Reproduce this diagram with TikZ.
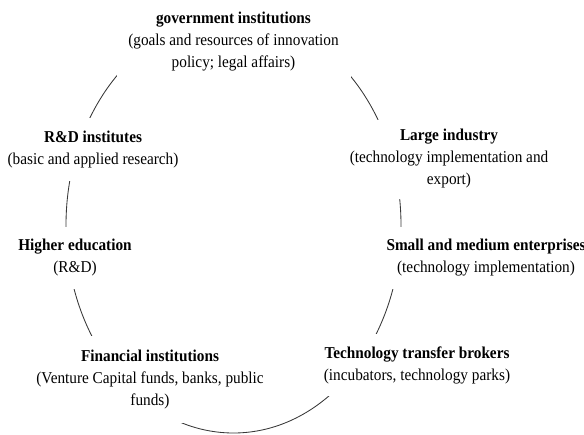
\documentclass[tikz,border=0pt]{standalone}
\usepackage{fontspec}
\setmainfont[FakeStretch=0.92]{Liberation Serif}

\begin{document}
\begin{tikzpicture}[x=1pt, y=-1pt,
	actor/.style={fill=white, align=center, inner xsep=6pt, inner ysep=0pt, font=\fontsize{16.6}{22}\selectfont}]
			%%%%% START %%%%%
			
			\useasboundingbox (0, 0) rectangle (584, 434);
			
			% the ring, the boxes below cover it
			\draw[line width=0.3mm, color=black!78] (233.5, 225) ellipse [x radius=167.5pt, y radius=208pt];
			
			\node[actor, minimum width=234pt, minimum height=74pt] (gov) at (233.5, 42) {\textbf{government institutions}\\(goals and resources of innovation\\policy; legal affairs)};
			
			\node[actor, minimum height=63pt] (rdi) at (93, 149.5) {\textbf{R\&D institutes}\\(basic and applied research)};
			\node[actor, minimum height=79pt] (large) at (449, 159) {\textbf{Large industry}\\(technology implementation and\\export)};
			
			\node[actor, minimum height=62pt] (hedu) at (75, 258) {\textbf{Higher education}\\(R\&D)};
			\node[actor, minimum height=62pt] (sme) at (486, 258) {\textbf{Small and medium enterprises}\\(technology implementation)};
			
			\node[actor, minimum width=236pt, minimum height=87pt] (fin) at (150, 379.5) {\textbf{Financial institutions}\\(Venture Capital funds, banks, public\\funds)};
			\node[actor, minimum width=196pt, minimum height=62pt] (ttb) at (417, 365) {\textbf{Technology transfer brokers}\\(incubators, technology parks)};
			
			%%%%% END %%%%%
\end{tikzpicture}
\end{document}
